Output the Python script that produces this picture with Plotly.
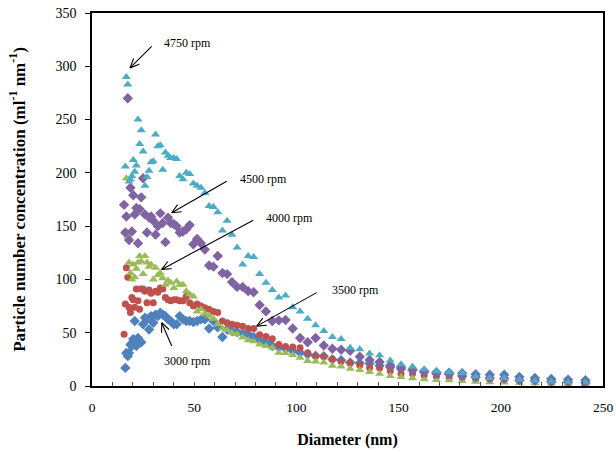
import math
import plotly.graph_objects as go

diameter_nm = [15.7, 16.3, 16.8, 17.5, 18.1, 18.8, 19.5, 20.2, 20.9, 21.7, 22.5, 23.3, 24.1, 25.0, 25.9,
               26.9, 27.9, 28.9, 30.0, 31.1, 32.2, 33.4, 34.6, 35.9, 37.2, 38.5, 40.0, 41.4, 42.9, 44.5,
               46.1, 47.8, 49.6, 51.4, 53.3, 55.2, 57.3, 59.4, 61.5, 63.8, 66.1, 68.5, 71.0, 73.7, 76.4,
               79.1, 82.0, 85.1, 88.2, 91.4, 94.7, 98.2, 101.8, 105.5, 109.4, 113.4, 117.6, 121.9, 126.3,
               131.0, 135.8, 140.7, 145.9, 151.2, 156.8, 162.5, 168.5, 174.7, 181.1, 187.7, 194.6, 201.7,
               209.1, 216.7, 224.7, 232.9, 241.4]

rpm_3000 = [None, 17, 31, 28, 31, 39, 37.5, 44, 61, 37.5, 45, 42, 41, 58, 64,
            62.5, 53, 65.6, 59.4, 67, 65.6, 68.8, 67, 65.6, 62.5, 61, 58, 58, 65.6, 62.5,
            61, 61, 60, 61, 62.5, 62.5, 54, 61, 55, 46, 53, 51.6, 50.6, 49.4, 48.5,
            46, 43, 41, 37.5, 36.6, 35, 33, 31.3, 29.7, 28.5, 28, 25, 24.2, 22,
            21.5, 21, 19, 17.5, 16, 15, 14, 13, 12.5, 12, 11, 10.5, 10.5,
            8.5, 7.5, 6.5, 6, 5.5]

rpm_3500 = [48.5, 77, 111, 102, 74, 69, 83, 81, 74, 91, 80, 72, 91, 91, 89,
            78, 90, 87, 78, 89, 88, 92, 91, 83, 81, 80, 81, 81, 80, 80,
            84, 78, 75, 77, 75, 73.5, 72, 70, 69, 61, 59.4, 58, 57, 56, 54,
            54, 48, 46.5, 44.4, 39, 37, 36.5, 36, 31.3, 28, 27.6, 25, 23, 21.3,
            19.5, 17.2, 17, 14, 11.6, 11.6, 10, 8.8, 7.8, 7.8, 6.3, 6, 5.5,
            5, 4.5, 4, 3.6, 3.5]

rpm_4000 = [None, 144, 195, 141, 116, 106, 100, 114, 102, 110, 116, 122, 117, 105, 122,
            116, 112, 114, 100, 111, 104, 106, 101, 95, 99, 97, 92, 98, 95, 95,
            89, 86, 84, 70, 72, 68, 66, 63, 58, 54, 52.5, 50, 48.5, 45.4, 43,
            42, 39, 37.5, 36, 31.3, 31, 29, 26.6, 23.4, 23, 22, 19, 18.2, 16.3,
            15, 13.1, 11.6, 9.4, 8.4, 7.2, 6.3, 5.6, 5.3, 4.7, 4.1, 3.5, 3.2,
            3, 2.6, 2.3, 2.1, 2]

rpm_4500 = [170, 144, 159, 270, 137, 186, 145, 179, 161, 167, 134, 166, 177, 195, 161,
            144, 158, 159, 155, 142, 150, 162, 153, 135, 158, 153, 152, 150, 144, 145,
            147, 151, 133, 138, 134, 128, 113, 112, 122, 106, 105, 97.5, 93, 93, 89,
            88, 76, 70, 61, 61.6, 62, 54, 45, 41, 45, 38, 35, 34, 33,
            27.5, 24.4, 22.5, 19.4, 17.8, 15, 13.1, 11.6, 11, 9.4, 8.4, 7.5, 7,
            5.5, 5, 4, 3.5, 3]

rpm_4750 = [None, 206, 290, 283, 192, 194, 197, 212, 201, 207, 250, 227, 240, 220, 188,
            196, 202, 210, 211, 236, 225, 226, 203, 219, 216, 214, 214, 213, 197, 194,
            200, 199, 190, 188, 186, 181, 169, 168, 163, 146, 155, 142, 130, 114, 122,
            121, 105, 97, 90, 83, 85, 74, 70, 63, 57, 51.6, 46, 44, 36,
            34.4, 30.4, 28.8, 24, 20.3, 18.2, 15.7, 13.8, 13, 12, 9, 7.5, 7.5,
            5.8, 5, 4.2, 3.6, 3.4]

x_ticks = [0, 50, 100, 150, 200, 250]
y_ticks = [0, 50, 100, 150, 200, 250, 300, 350]

series = [
    ("3000 rpm", rpm_3000, "#4F81BD", "diamond", 8),
    ("3500 rpm", rpm_3500, "#C0504D", "circle", 7),
    ("4000 rpm", rpm_4000, "#9BBB59", "triangle-up", 8),
    ("4500 rpm", rpm_4500, "#8064A2", "diamond", 8),
    ("4750 rpm", rpm_4750, "#4BACC6", "triangle-up", 8),
]

# label text, arrow head (x, y), arrow tail (x, y), label position (x, y)
labels = [
    ("4750 rpm", (18.6, 298.5), (29.2, 318.7), (34.3, 321.5)),
    ("4500 rpm", (39.0, 162.6), (65.9, 192.2), (71.3, 194.5)),
    ("4000 rpm", (34.1, 109.4), (78.9, 155.6), (84.1, 157.5)),
    ("3500 rpm", (80.6, 56.2), (109.9, 87.6), (116.2, 90.5)),
    ("3000 rpm", (34.1, 59.4), (39.0, 37.5), (34.1, 23.0)),
]

X_RANGE = [0, 250]
Y_RANGE = [0, 350]
W, H = 616, 452
ML, MR, MT, MB = 92, 13, 13, 66
sx = (W - ML - MR) / (X_RANGE[1] - X_RANGE[0])
sy = (H - MT - MB) / (Y_RANGE[1] - Y_RANGE[0])

serif = "Liberation Serif, Times New Roman, serif"
XTICK_SIZE = 13.5

fig = go.Figure()
for name, vals, color, sym, size in series:
    fig.add_trace(go.Scatter(
        x=diameter_nm, y=vals, mode="markers", name=name,
        marker=dict(symbol=sym, size=size, color=color, line=dict(width=0)),
    ))

line_style = dict(color="black", width=1.1)
for text, head, tail, pos in labels:
    fig.add_shape(type="line", xref="x", yref="y", x0=tail[0], y0=tail[1], x1=head[0], y1=head[1],
                  line=line_style, layer="above")
    dxp = (head[0] - tail[0]) * sx
    dyp = (head[1] - tail[1]) * sy
    ang = math.atan2(dyp, dxp)
    L = 10.0
    for da in (0.42, -0.42):
        a = ang + math.pi + da
        wx = head[0] + L * math.cos(a) / sx
        wy = head[1] + L * math.sin(a) / sy
        fig.add_shape(type="line", xref="x", yref="y", x0=head[0], y0=head[1], x1=wx, y1=wy,
                      line=line_style, layer="above")
    fig.add_annotation(x=pos[0], y=pos[1], xref="x", yref="y", text=text, showarrow=False,
                       xanchor="left", yanchor="middle",
                       font=dict(family=serif, size=12, color="black"))

# last x tick label, placed at the right end of the x domain (x = 250)
fig.add_annotation(x=1.0, xref="paper", y=-21 / (H - MT - MB), yref="paper",
                   text=str(x_ticks[-1]), showarrow=False, xanchor="center", yanchor="middle",
                   font=dict(family=serif, size=XTICK_SIZE, color="black"))

fig.update_layout(
    width=W, height=H,
    margin=dict(l=ML, r=MR, t=MT, b=MB, autoexpand=False),
    paper_bgcolor="white", plot_bgcolor="white",
    showlegend=False,
    font=dict(family=serif, size=13, color="black"),
)
fig.update_xaxes(
    range=X_RANGE, tickmode="array", tickvals=x_ticks[:-1], ticktext=[str(v) for v in x_ticks[:-1]],
    automargin=False,
    showgrid=False, zeroline=False,
    showline=True, linecolor="black", linewidth=1.5, mirror=True,
    ticks="inside", ticklen=4, tickcolor="#555", tickwidth=1,
    minor=dict(dtick=10, tick0=0, ticks="inside", ticklen=4, tickcolor="#555", tickwidth=1),
    tickfont=dict(family=serif, size=XTICK_SIZE),
    ticklabelstandoff=8, ticklabeloverflow="allow",
    title=dict(text="<b>Diameter (nm)</b>", font=dict(family=serif, size=16), standoff=20),
)
fig.update_yaxes(
    range=Y_RANGE, tickmode="array", tickvals=y_ticks, ticktext=[str(v) for v in y_ticks],
    automargin=False,
    showgrid=False, zeroline=False,
    showline=True, linecolor="black", linewidth=1.5, mirror=True,
    ticks="outside", ticklen=5, tickcolor="black", tickwidth=1,
    tickfont=dict(family=serif, size=14),
    ticklabelstandoff=6, ticklabeloverflow="allow",
    title=dict(text="<b>Particle number concentration (ml<sup>-1</sup> nm<sup>-1</sup>)</b>",
               font=dict(family=serif, size=17), standoff=26),
)

fig.write_html(
    "out.html", config={"displayModeBar": False},
    post_script=("document.documentElement.style.overflow='hidden';"
                 "document.body.style.overflow='hidden';"
                 "document.body.style.margin='0';"),
)
